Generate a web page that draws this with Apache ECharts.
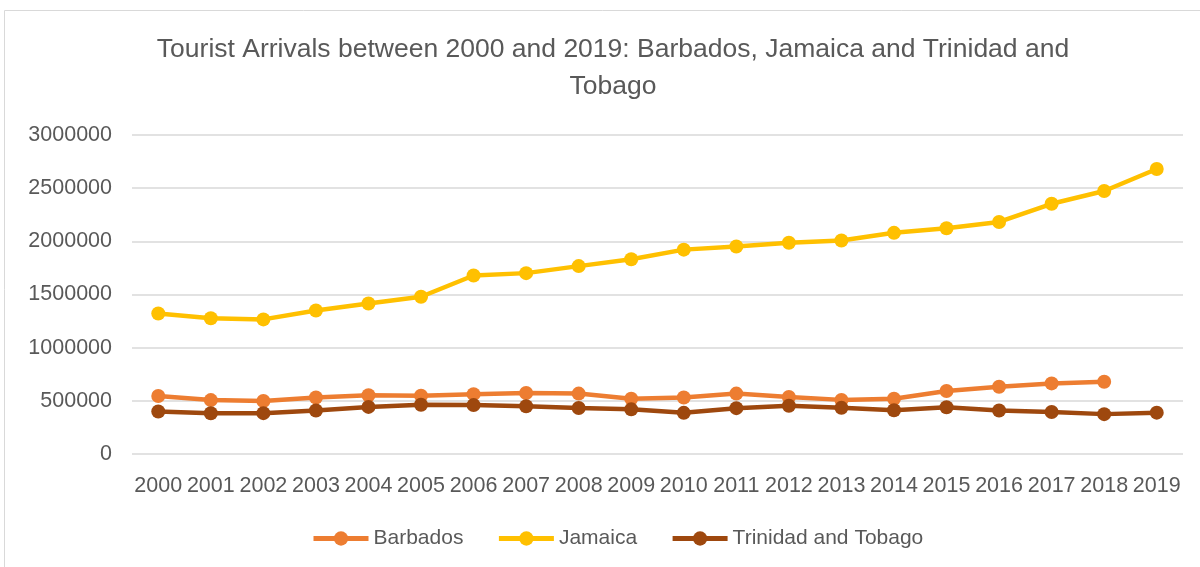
<!DOCTYPE html>
<html>
<head>
<meta charset="utf-8">
<script src="https://cdn.jsdelivr.net/npm/echarts@6/dist/echarts.min.js"></script>
<style>
  html, body { margin: 0; padding: 0; background: #fff; }
  #chart { width: 1200px; height: 567px; }
</style>
</head>
<body>
<div id="chart"></div>
<script>
const years = ['2000', '2001', '2002', '2003', '2004', '2005', '2006', '2007', '2008', '2009',
  '2010', '2011', '2012', '2013', '2014', '2015', '2016', '2017', '2018', '2019']

// tourist arrivals
const barbados = [545000, 507000, 498000, 531000, 552000, 548000, 563000, 573000, 568000, 519000,
  532000, 568000, 536000, 509000, 520000, 592000, 632000, 664000, 680000, null]
const jamaica = [1322000, 1277000, 1266000, 1350000, 1415000, 1479000, 1679000, 1701000, 1767000, 1831000,
  1922000, 1952000, 1986000, 2008000, 2080000, 2123000, 2182000, 2353000, 2473000, 2680000]
const trinidad = [399000, 383000, 384000, 409000, 443000, 463000, 460000, 449000, 433000, 420000,
  387000, 431000, 454000, 434000, 412000, 440000, 409000, 395000, 375000, 389000]

const font = 'Liberation Sans'
const textColor = '#595959'

const chart = echarts.init(document.getElementById('chart'))

const lineSeries = (name, data, color) => ({
  name,
  type: 'line',
  data,
  symbol: 'circle',
  symbolSize: 14,
  lineStyle: { width: 4.5, color },
  itemStyle: { color },
  emphasis: { disabled: true },
})

chart.setOption({
  animation: false,
  textStyle: { fontFamily: font },
  graphic: [
    {
      type: 'rect',
      shape: { x: 4.5, y: 10.5, width: 1300, height: 700 },
      style: { fill: 'none', stroke: '#d9d9d9', lineWidth: 1 },
      silent: true,
    },
  ],
  title: {
    text: 'Tourist Arrivals between 2000 and 2019: Barbados, Jamaica and Trinidad and\nTobago',
    left: 608,
    textAlign: 'center',
    top: 26,
    textStyle: {
      fontFamily: font,
      fontSize: 26.5,
      fontWeight: 'normal',
      color: textColor,
      lineHeight: 37,
    },
  },
  legend: {
    top: 523,
    left: 306,
    itemWidth: 55,
    itemHeight: 18,
    itemGap: 33,
    lineStyle: { width: 5 },
    textStyle: { fontFamily: font, fontSize: 21, color: textColor },
    data: ['Barbados', 'Jamaica', 'Trinidad and Tobago'],
  },
  grid: { left: 132, right: 17, top: 135, bottom: 113 },
  xAxis: {
    type: 'category',
    data: years,
    boundaryGap: true,
    axisLine: { show: false },
    axisTick: { show: false },
    axisLabel: {
      fontFamily: font, fontSize: 21.5, color: textColor, margin: 21,
      interval: 0, hideOverlap: false,
    },
  },
  yAxis: {
    type: 'value',
    min: 0,
    max: 3000000,
    interval: 500000,
    axisLine: { show: false },
    axisTick: { show: false },
    axisLabel: {
      fontFamily: font, fontSize: 21.5, color: textColor, margin: 20,
      formatter: (v) => String(v),
    },
    splitLine: { lineStyle: { color: '#d9d9d9', width: 1.5 } },
  },
  series: [
    lineSeries('Barbados', barbados, '#ED7D31'),
    lineSeries('Jamaica', jamaica, '#FFC000'),
    lineSeries('Trinidad and Tobago', trinidad, '#9E480E'),
  ],
})
</script>
</body>
</html>
